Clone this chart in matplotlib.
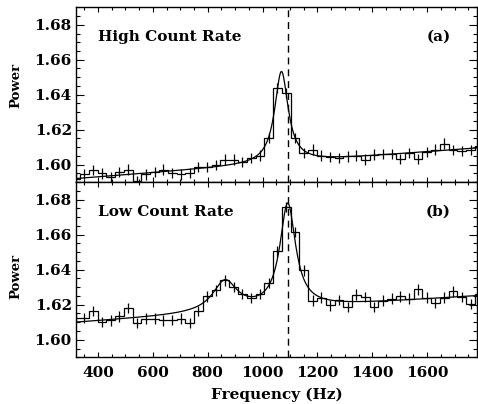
import numpy as np
import matplotlib
matplotlib.use("Agg")
import matplotlib.pyplot as plt
from matplotlib.ticker import MultipleLocator, FormatStrFormatter

# binned power spectra (32 Hz bins)
bin_start = 302.5
bin_width = 32.0

power_high = [1.5920, 1.5945, 1.5968, 1.5949, 1.5928, 1.5956, 1.5971, 1.5905,
              1.5943, 1.5956, 1.5971, 1.5952, 1.5943, 1.5952, 1.5985, 1.5985,
              1.5997, 1.6028, 1.6028, 1.6013, 1.6038, 1.6051, 1.6152, 1.6438,
              1.6409, 1.6152, 1.6066, 1.6085, 1.6051, 1.6044, 1.6038, 1.6047,
              1.6051, 1.6028, 1.6057, 1.6059, 1.6059, 1.6032, 1.6067, 1.6032,
              1.6072, 1.6086, 1.6120, 1.6082, 1.6076, 1.6082, 1.6108]

power_low = [1.6125, 1.6125, 1.6163, 1.6100, 1.6110, 1.6133, 1.6182, 1.6095,
             1.6120, 1.6120, 1.6110, 1.6114, 1.6120, 1.6095, 1.6163, 1.6247,
             1.6282, 1.6339, 1.6300, 1.6260, 1.6237, 1.6262, 1.6323, 1.6504,
             1.6758, 1.6615, 1.6396, 1.6224, 1.6240, 1.6196, 1.6228, 1.6186,
             1.6257, 1.6243, 1.6186, 1.6224, 1.6234, 1.6247, 1.6234, 1.6287,
             1.6240, 1.6209, 1.6240, 1.6276, 1.6243, 1.6205, 1.6262]

err_high = 0.003
err_low = 0.003

# fit parameters: linear baseline (value at 320 Hz, slope) + lorentzians (centre, hwhm, amplitude)
base_high = (1.5919, 1.2e-5)
qpo_high = [(1069.0, 30.0, 0.0524)]
base_low = (1.6098, 1.04e-5)
qpo_low = [(863.0, 55.0, 0.0175), (1092.0, 35.0, 0.0592)]

qpo_line = 1093.0
panel_text = [("High Count Rate", "(a)"), ("Low Count Rate", "(b)")]
ylabel_pos = [0.555, 0.46]


def model(f, base, qpos):
    y = base[0] + base[1] * (f - 320.0)
    for f0, hw, amp in qpos:
        y = y + amp * hw**2 / ((f - f0)**2 + hw**2)
    return y


plt.rcParams['font.family'] = 'DejaVu Serif'
plt.rcParams['font.weight'] = 'bold'

fig = plt.figure(figsize=(4.78, 4.04), dpi=100)
ax1 = fig.add_axes([76/478, 1-182/404, 401/478, (182-7.3)/404])
ax2 = fig.add_axes([76/478, 1-357.3/404, 401/478, (357.3-182)/404])

freq = np.linspace(320, 1785, 1500)

panels = [(ax1, power_high, err_high, base_high, qpo_high, panel_text[0], ylabel_pos[0]),
          (ax2, power_low, err_low, base_low, qpo_low, panel_text[1], ylabel_pos[1])]
for ax, vals, err, base, qpos, txt, ypos in panels:
    vals = np.array(vals)
    edges = bin_start + bin_width * np.arange(len(vals) + 1)
    centres = 0.5 * (edges[1:] + edges[:-1])
    ax.stairs(vals, edges, color='black', lw=0.9)
    ax.errorbar(centres, vals, yerr=err, fmt='none', ecolor='black', elinewidth=0.9, capsize=0)
    ax.plot(freq, model(freq, base, qpos), color='black', lw=0.9)
    ax.axvline(qpo_line, color='black', lw=1.0, ls=(0, (5, 3.5)))

    ax.set_xlim(320, 1782)
    ax.set_ylim(1.59, 1.69)
    ax.xaxis.set_major_locator(MultipleLocator(200))
    ax.xaxis.set_minor_locator(MultipleLocator(50))
    ax.yaxis.set_major_locator(MultipleLocator(0.02))
    ax.yaxis.set_minor_locator(MultipleLocator(0.005))
    ax.yaxis.set_major_formatter(FormatStrFormatter('%.2f'))
    ax.tick_params(which='both', direction='in', top=True, right=True, width=0.8, labelsize=11)
    ax.tick_params(axis='y', which='major', length=6, pad=3)
    ax.tick_params(axis='y', which='minor', length=3)
    ax.tick_params(axis='x', which='major', length=3.8, pad=6.5)
    ax.tick_params(axis='x', which='minor', length=2)
    for s in ax.spines.values():
        s.set_linewidth(1.0)

    ax.text(0.055, 0.83, txt[0], transform=ax.transAxes, fontsize=11,
            fontweight='bold', va='center', ha='left')
    ax.text(0.935, 0.83, txt[1], transform=ax.transAxes, fontsize=11,
            fontweight='bold', va='center', ha='right')
    ax.set_ylabel("Power", fontsize=9.5, fontweight='bold')
    ax.yaxis.set_label_coords(-0.134, ypos)

ax1.tick_params(labelbottom=False)
ax2.set_xlabel("Frequency (Hz)", fontsize=11, fontweight='bold')
ax2.xaxis.set_label_coords(0.5, -0.172)

fig.savefig("out.png", dpi=100)
plt.close()
